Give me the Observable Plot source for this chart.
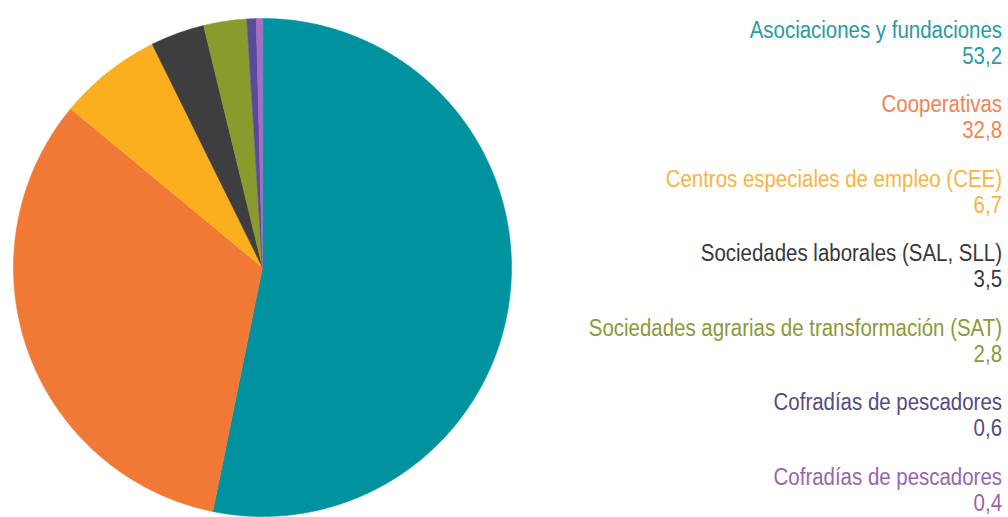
<!DOCTYPE html>
<html><head><meta charset="utf-8">
<script src="https://cdn.jsdelivr.net/npm/d3@7"></script>
<script src="https://cdn.jsdelivr.net/npm/@observablehq/plot@0.6"></script>
<style>
html,body{margin:0;padding:0;background:#fff;width:1008px;height:517px;overflow:hidden;}
#wrap{position:relative;width:1008px;height:517px;}
#chart{position:absolute;left:0;top:0;}
#legend{position:absolute;right:6px;top:16.5px;text-align:right;
  font-family:"Liberation Sans",Arial,sans-serif;
  font-size:23.5px;line-height:26px;}
#legend .item{margin-bottom:22.6px;}
#legend .line{white-space:nowrap;transform:scaleX(0.87);transform-origin:right center;}
</style></head>
<body><div id="wrap"><div id="chart"></div><div id="legend"></div></div>
<script>
const categories = ["Asociaciones y fundaciones","Cooperativas","Centros especiales de empleo (CEE)","Sociedades laborales (SAL, SLL)","Sociedades agrarias de transformación (SAT)","Cofradías de pescadores","Cofradías de pescadores"];
const values = [53.2, 32.8, 6.7, 3.5, 2.8, 0.6, 0.4];
const valueLabels = ["53,2","32,8","6,7","3,5","2,8","0,6","0,4"];
const sliceColors = ["#00939f","#f07a35","#fbaf1f","#3e3e40","#8b9a2c","#5b4a9c","#a86cc6"];
const textColors = ["#2a9aa3","#ef8454","#f9b343","#38383a","#8d9838","#574a86","#9a64ac"];

const ids = categories.map((c,i)=>i+": "+c);
const arcs = d3.pie().sort(null).value(d=>d)(values);
const pts = [];
arcs.forEach((a,i)=>{
  pts.push({id:ids[i], x:0, y:0});
  const n = Math.max(4, Math.ceil((a.endAngle-a.startAngle)/(Math.PI/360)));
  for(let k=0;k<=n;k++){
    const t = a.startAngle + (a.endAngle-a.startAngle)*k/n;
    pts.push({id:ids[i], x:Math.sin(t), y:Math.cos(t)});
  }
});

const chart = Plot.plot({
  width:520, height:517,
  marginLeft:13, marginRight:9, marginTop:18, marginBottom:1,
  x:{domain:[-1,1], axis:null},
  y:{domain:[-1,1], axis:null},
  color:{domain:ids, range:sliceColors},
  marks:[
    Plot.line(pts,{x:"x",y:"y",z:"id",fill:"id",stroke:"id",strokeWidth:0.6,curve:"linear-closed"})
  ]
});
document.getElementById("chart").appendChild(chart);

const leg = d3.select("#legend");
categories.forEach((c,i)=>{
  const it = leg.append("div").attr("class","item").style("color",textColors[i]);
  it.append("div").attr("class","line").text(c);
  it.append("div").attr("class","line").text(valueLabels[i]);
});
</script></body></html>
